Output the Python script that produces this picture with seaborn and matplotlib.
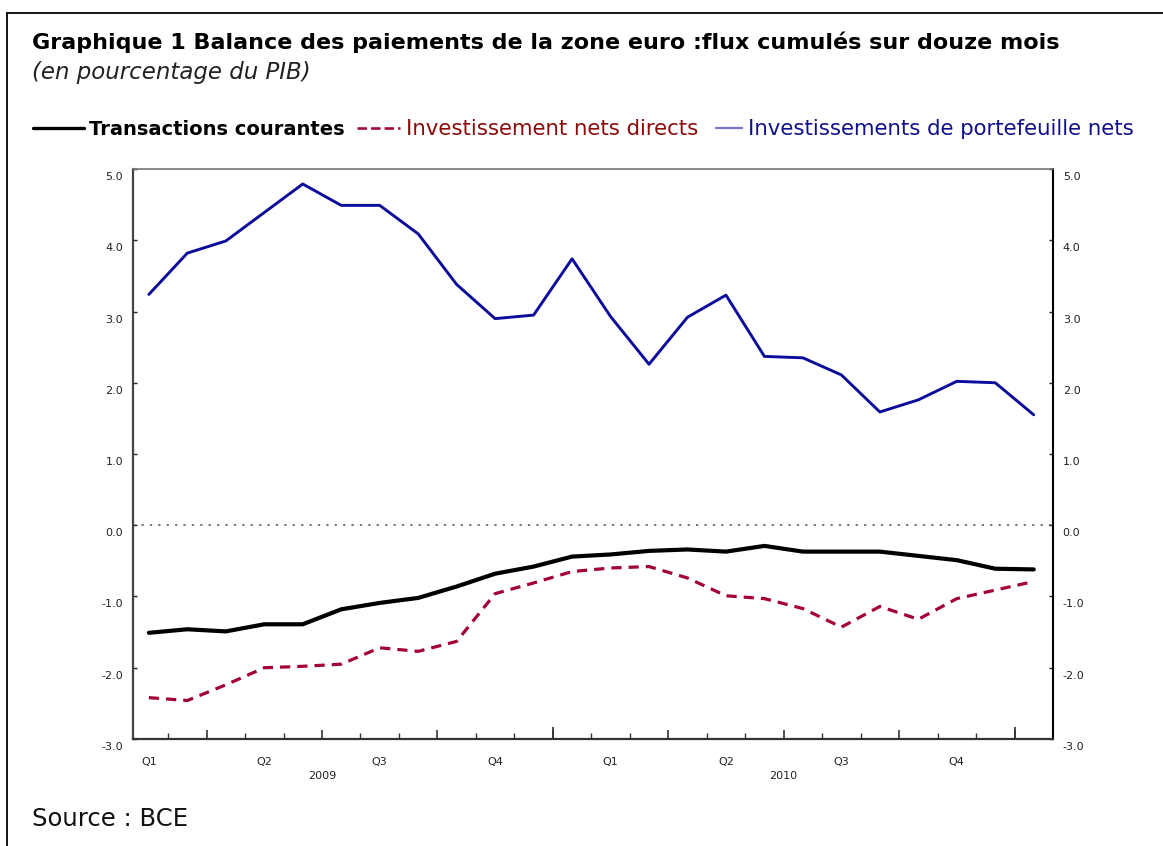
import numpy as np
import pandas as pd
import matplotlib
matplotlib.use('Agg')
import matplotlib.pyplot as plt
import matplotlib.transforms as mtransforms
from matplotlib.lines import Line2D
import seaborn as sns

# Donnees (% du PIB), 24 points mensuels
mois = list(range(24))
transactions_courantes = [-1.51, -1.46, -1.49, -1.39, -1.39, -1.18, -1.09, -1.02, -0.86, -0.68, -0.58, -0.44,
                          -0.41, -0.36, -0.34, -0.37, -0.29, -0.37, -0.37, -0.37, -0.43, -0.49, -0.61, -0.62]
invest_directs = [-2.42, -2.46, -2.24, -2.00, -1.98, -1.95, -1.72, -1.77, -1.63, -0.96, -0.81, -0.65,
                  -0.60, -0.58, -0.74, -0.99, -1.03, -1.17, -1.43, -1.14, -1.32, -1.03, -0.91, -0.79]
invest_portefeuille = [3.24, 3.82, 3.99, 4.39, 4.79, 4.49, 4.49, 4.09, 3.38, 2.90, 2.95, 3.74,
                       2.93, 2.26, 2.92, 3.23, 2.37, 2.35, 2.11, 1.59, 1.76, 2.02, 2.00, 1.55]
trimestres = ['Q1', 'Q2', 'Q3', 'Q4', 'Q1', 'Q2', 'Q3', 'Q4']
annees = ['2009', '2010']
noms = ['Transactions courantes', 'Investissement nets directs', 'Investissements de portefeuille nets']

df = pd.DataFrame({'mois': mois, noms[0]: transactions_courantes,
                   noms[1]: invest_directs, noms[2]: invest_portefeuille})

sns.set_style('white')
plt.rcParams['font.family'] = ['DejaVu Sans']
plt.rcParams['axes.unicode_minus'] = False
plt.rcParams['text.color'] = 'black'

fig = plt.figure(figsize=(11.63, 8.46), dpi=100)
ax = fig.add_axes([0.1141, 0.1265, 0.9054 - 0.1141, 0.8002 - 0.1265])

#courbes-----------------------------------------------------------------------
sns.lineplot(data=df, x='mois', y=noms[2], ax=ax, color='#0c0c9c', lw=2.1)
sns.lineplot(data=df, x='mois', y=noms[0], ax=ax, color='black', lw=3.0)
sns.lineplot(data=df, x='mois', y=noms[1], ax=ax, color='#a3003c', lw=2.3, dashes=False)
ax.lines[-1].set_linestyle((0, (3.2, 2.2)))
ax.axhline(0, color='#555555', lw=1.1, ls=(0, (1.5, 4)))

ax.set_xlim(-0.42, 23.5)
ax.set_ylim(-3, 5)
ax.set_xlabel('')
ax.set_ylabel('')

#axes et graduations----------------------------------------------------------
for s, c, w in [('left', '#444444', 1.6), ('bottom', '#333333', 1.6), ('right', 'black', 1.5), ('top', '#777777', 1.2)]:
    ax.spines[s].set_color(c)
    ax.spines[s].set_linewidth(w)

ax.set_yticks(np.arange(-3, 5.1, 1.0))
ax.set_yticklabels(['%.1f' % v for v in np.arange(-3, 5.1, 1.0)])
ax.tick_params(axis='y', which='both', direction='in', length=3, width=1, left=True, right=True,
               labelleft=True, labelright=True, labelsize=8, pad=7, colors='#222222')
decal = mtransforms.ScaledTranslation(0, -7 / 100, fig.dpi_scale_trans)
for lab in ax.get_yticklabels():
    lab.set_transform(lab.get_transform() + decal)

limites_mois = [k + 0.5 for k in range(23)]
limites_trim = limites_mois[1::3]
ax.set_xticks(limites_mois, minor=True)
ax.set_xticks(limites_trim)
ax.set_xticklabels([])
ax.tick_params(axis='x', which='minor', bottom=True, direction='in', length=4, width=1, color='#333333')
ax.tick_params(axis='x', which='major', bottom=True, direction='in', length=6.5, width=1.2, color='#333333')

sec = ax.secondary_xaxis('bottom')
sec.set_xticks([3 * i for i in range(len(trimestres))], labels=trimestres)
sec.set_xticks([limites_trim[3], limites_trim[7]], minor=True)
sec.tick_params(axis='x', which='major', length=0, labelsize=8, pad=13, colors='#222222')
sec.tick_params(axis='x', which='minor', direction='in', length=9, width=1.2, color='#333333')
sec.spines['bottom'].set_visible(False)

sec2 = ax.secondary_xaxis('bottom')
sec2.set_xticks([4.5, 16.5], labels=annees)
sec2.tick_params(axis='x', length=0, labelsize=8, pad=23, colors='#222222')
sec2.spines['bottom'].set_visible(False)

#titres--------------------------------------------------------------------------
fig.text(32 / 1163, 1 - 42 / 846, 'Graphique 1 Balance des paiements de la zone euro :flux cumulés sur douze mois',
         fontsize=16, fontweight='bold', va='center', ha='left', color='black')
fig.text(32 / 1163, 1 - 73 / 846, '(en pourcentage du PIB)', fontsize=16.5, style='italic',
         va='center', ha='left', color='#222222')
fig.text(32 / 1163, 1 - 819 / 846, 'Source : BCE', fontsize=17.5, va='center', ha='left', color='#111111')

#legende-------------------------------------------------------------------------
legendes = [(0, 33, 'black', 'bold', 2.6, 14), (2, 357, '#8b0a0a', 'normal', 2.0, 15.3),
            (1, 716, '#10108c', 'normal', 1.2, 15.3)]
ordre = {0: ax.lines[1], 2: ax.lines[2], 1: ax.lines[0]}
for i, x0, coul, poids, hl, taille in legendes:
    src = ordre[i]
    h = Line2D([], [], color=src.get_color(), lw=src.get_linewidth() * 0.8, ls=src.get_linestyle())
    if i == 1:
        h.set_color('#7777cc')
    nom = noms[0] if i == 0 else (noms[1] if i == 2 else noms[2])
    leg = fig.legend([h], [nom], loc='center left', bbox_to_anchor=(x0 / 1163, 1 - 129 / 846),
                     frameon=False, fontsize=taille, handlelength=hl, handletextpad=0.3, borderpad=0,
                     borderaxespad=0)
    t = leg.get_texts()[0]
    t.set_color(coul)
    t.set_fontweight(poids)

#cadre------------------------------------------------------------------------------
fig.add_artist(Line2D([7 / 1163, 1], [1 - 13 / 846, 1 - 13 / 846], transform=fig.transFigure, color='black', lw=1.3))
fig.add_artist(Line2D([7 / 1163, 7 / 1163], [0, 1 - 13 / 846], transform=fig.transFigure, color='black', lw=1.3))

fig.savefig('out.png', dpi=100)
